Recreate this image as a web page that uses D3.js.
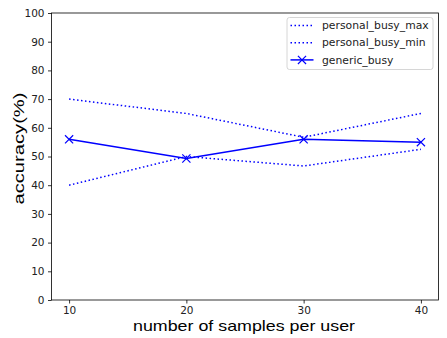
<!DOCTYPE html>
<html>
<head>
<meta charset="utf-8">
<script src="https://cdn.jsdelivr.net/npm/d3@7"></script>
<style>
	body { margin: 0; background: #fff; }
	svg text { font-family: "DejaVu Sans", sans-serif; }
</style>
</head>
<body>
<svg id="chart" width="447" height="338"></svg>
<script>
// values
var samples = [10, 20, 30, 40];
var busyMax = [70, 65, 56.7, 65];
var busyMin = [40, 50, 46.7, 52.5];
var genericBusy = [56, 49.3, 56, 55];
var yTicks = [0, 10, 20, 30, 40, 50, 60, 70, 80, 90, 100];
var seriesNames = ["personal_busy_max", "personal_busy_min", "generic_busy"];

var svg = d3.select("#chart");
var margin = {left: 51.5, right: 438.5, top: 13, bottom: 300};
var blue = "#0000ff";

var x = d3.scaleLinear().domain([8.5, 41.5]).range([margin.left, margin.right]);
var y = d3.scaleLinear().domain([0, 100]).range([margin.bottom, margin.top]);

// axes
var xAxis = svg.append("g")
	.attr("transform", "translate(0," + margin.bottom + ")")
	.call(d3.axisBottom(x).tickValues(samples).tickSize(3.5).tickPadding(3.5).tickFormat(d3.format("d")));
var yAxis = svg.append("g")
	.attr("transform", "translate(" + margin.left + ",0)")
	.call(d3.axisLeft(y).tickValues(yTicks).tickSize(3.5).tickPadding(3.5));
[xAxis, yAxis].forEach(function(a){
	a.select(".domain").remove();
	a.selectAll(".tick line").attr("stroke", "#000").attr("stroke-width", 0.8);
	a.selectAll(".tick text").attr("fill", "#222").style("font-size", "10.5px").style("font-family", "DejaVu Sans");
});

// frame
svg.append("rect")
	.attr("x", margin.left).attr("y", margin.top)
	.attr("width", margin.right - margin.left)
	.attr("height", margin.bottom - margin.top)
	.attr("fill", "none").attr("stroke", "#000").attr("stroke-width", 0.8);

var line = d3.line()
	.x(function(d, i){ return x(samples[i]); })
	.y(function(d){ return y(d); });

svg.append("path").datum(busyMax)
	.attr("d", line).attr("fill", "none")
	.attr("stroke", blue).attr("stroke-width", 1.5).attr("stroke-dasharray", "1.5,2.5");
svg.append("path").datum(busyMin)
	.attr("d", line).attr("fill", "none")
	.attr("stroke", blue).attr("stroke-width", 1.5).attr("stroke-dasharray", "1.5,2.5");
svg.append("path").datum(genericBusy)
	.attr("d", line).attr("fill", "none")
	.attr("stroke", blue).attr("stroke-width", 1.5);

// x markers
var cross = d3.symbol().type(d3.symbolX).size(45);
svg.selectAll(".mark").data(genericBusy).enter().append("path")
	.attr("class", "mark")
	.attr("d", cross)
	.attr("transform", function(d, i){ return "translate(" + x(samples[i]) + "," + y(d) + ")"; })
	.attr("fill", "none").attr("stroke", blue).attr("stroke-width", 1.2);

// axis labels (the original font is wider than Arial, so stretch to its width)
svg.append("text")
	.attr("x", 244).attr("y", 330.7)
	.attr("text-anchor", "middle")
	.attr("textLength", 222).attr("lengthAdjust", "spacingAndGlyphs")
	.style("font-family", "Liberation Sans, Arial, sans-serif").style("font-size", "15px")
	.text("number of samples per user");
svg.append("text")
	.attr("transform", "translate(23.5,148.5) rotate(-90)")
	.attr("text-anchor", "middle")
	.attr("textLength", 112).attr("lengthAdjust", "spacingAndGlyphs")
	.style("font-family", "Liberation Sans, Arial, sans-serif").style("font-size", "15px")
	.text("accuracy(%)");

// legend
var legend = svg.append("g").attr("transform", "translate(287,17.5)");
legend.append("rect")
	.attr("width", 146).attr("height", 52).attr("rx", 2.5)
	.attr("fill", "#fff").attr("fill-opacity", 0.8)
	.attr("stroke", "#ccc").attr("stroke-width", 0.8);
var rows = legend.selectAll(".row").data(seriesNames).enter().append("g")
	.attr("class", "row")
	.attr("transform", function(d, i){ return "translate(0," + (8 + i * 17.2) + ")"; });
rows.append("line")
	.attr("x1", 3.5).attr("x2", 26.5).attr("y1", 0).attr("y2", 0)
	.attr("stroke", blue).attr("stroke-width", 1.5)
	.attr("stroke-dasharray", function(d, i){ return i < 2 ? "1.5,2.5" : null; });
rows.filter(function(d, i){ return i == 2; }).append("path")
	.attr("d", cross).attr("transform", "translate(15,0)")
	.attr("fill", "none").attr("stroke", blue).attr("stroke-width", 1.2);
rows.append("text")
	.attr("x", 35).attr("y", 0).attr("dy", "0.35em")
	.attr("fill", "#222")
	.style("font-size", "10.8px")
	.text(function(d){ return d; });
</script>
</body>
</html>
